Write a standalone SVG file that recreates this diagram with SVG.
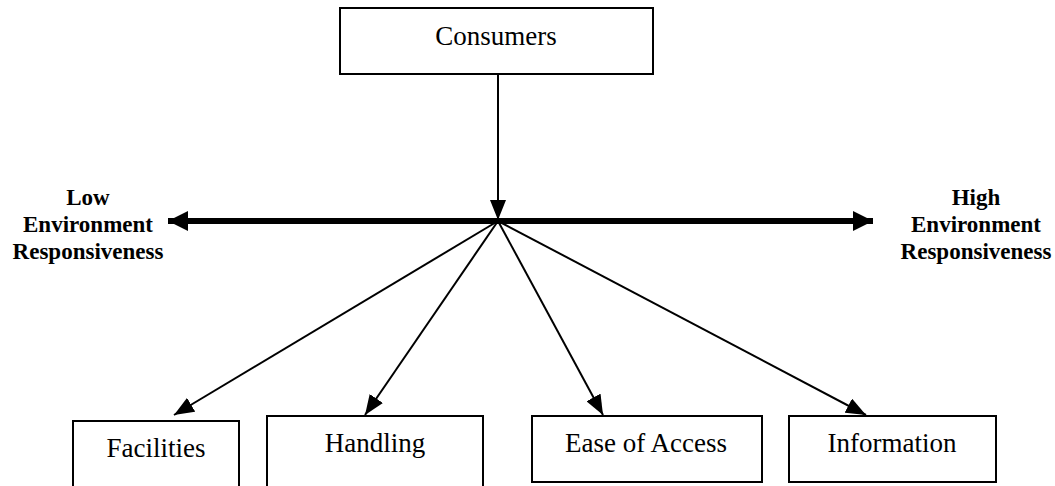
<svg xmlns="http://www.w3.org/2000/svg" width="1055" height="486" viewBox="0 0 1055 486">
  <style>
    .box { fill: #ffffff; stroke: #000000; stroke-width: 2; }
    .lbl { font-family: "Liberation Serif", "Times New Roman", serif; font-size: 27px; fill: #000000; text-anchor: middle; }
    .side { font-family: "Liberation Serif", "Times New Roman", serif; font-size: 23px; font-weight: bold; fill: #000000; text-anchor: middle; }
    .thin { stroke: #000000; stroke-width: 2; fill: none; }
    .thick { stroke: #000000; stroke-width: 6; fill: none; }
  </style>
  <defs>
    <marker id="ah" markerUnits="userSpaceOnUse" markerWidth="20" markerHeight="16" refX="20" refY="8" orient="auto">
      <path d="M0,0 L20,8 L0,16 z" fill="#000000"/>
    </marker>
    <marker id="ahBig" markerUnits="userSpaceOnUse" markerWidth="20" markerHeight="20" refX="20" refY="10" orient="auto">
      <path d="M0,0 L20,10 L0,20 z" fill="#000000"/>
    </marker>
  </defs>

  <g id="connectors">
    <line class="thick" x1="498" y1="221" x2="873" y2="221" marker-end="url(#ahBig)"/>
    <line class="thick" x1="498" y1="221" x2="168" y2="221" marker-end="url(#ahBig)"/>
    <line class="thin" x1="498" y1="74" x2="498" y2="220" marker-end="url(#ah)"/>
    <line class="thin" x1="498" y1="221" x2="174" y2="415" marker-end="url(#ah)"/>
    <line class="thin" x1="498" y1="221" x2="365" y2="415" marker-end="url(#ah)"/>
    <line class="thin" x1="498" y1="221" x2="603" y2="415" marker-end="url(#ah)"/>
    <line class="thin" x1="498" y1="221" x2="866" y2="415" marker-end="url(#ah)"/>
  </g>

  <g id="consumers">
    <rect class="box" x="340" y="8" width="313" height="66"/>
    <text class="lbl" x="496" y="45">Consumers</text>
  </g>

  <g id="low-label">
    <text class="side" x="88" y="205">Low</text>
    <text class="side" x="88" y="232">Environment</text>
    <text class="side" x="88" y="259">Responsiveness</text>
  </g>

  <g id="high-label">
    <text class="side" x="976" y="205">High</text>
    <text class="side" x="976" y="232">Environment</text>
    <text class="side" x="976" y="259">Responsiveness</text>
  </g>

  <g id="facilities">
    <rect class="box" x="73" y="421" width="166" height="80"/>
    <text class="lbl" x="156" y="457">Facilities</text>
  </g>

  <g id="handling">
    <rect class="box" x="267" y="416" width="216" height="85"/>
    <text class="lbl" x="375" y="452">Handling</text>
  </g>

  <g id="ease-of-access">
    <rect class="box" x="532" y="416" width="230" height="66"/>
    <text class="lbl" x="646" y="452">Ease of Access</text>
  </g>

  <g id="information">
    <rect class="box" x="789" y="416" width="207" height="66"/>
    <text class="lbl" x="892" y="452">Information</text>
  </g>
</svg>
